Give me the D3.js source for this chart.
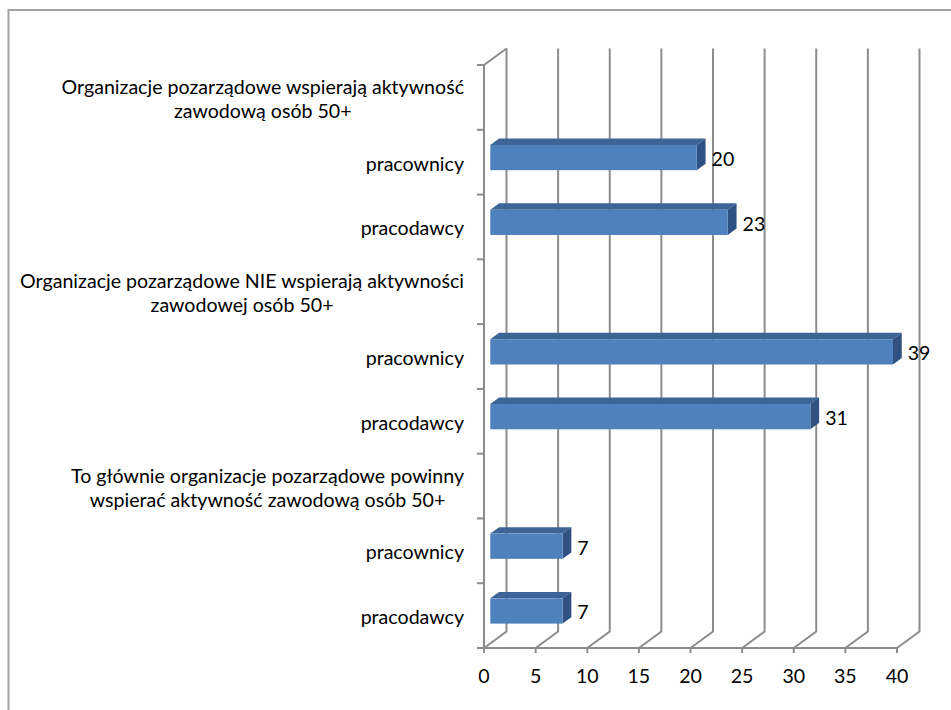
<!DOCTYPE html>
<html>
<head>
<meta charset="utf-8">
<script src="https://cdn.jsdelivr.net/npm/d3@7"></script>
<style>
  html, body { margin: 0; padding: 0; background: #fff; }
  svg { display: block; }
  text { font-family: Lato, "Open Sans", sans-serif; fill: #000; }
</style>
</head>
<body>
<svg id="chart" width="951" height="710"></svg>
<script>
// Categories from top to bottom; group headers carry no value
const categories = [
  "Organizacje pozarządowe wspierają aktywność\nzawodową osób 50+",
  "pracownicy",
  "pracodawcy",
  "Organizacje pozarządowe NIE wspierają aktywności\nzawodowej osób 50+",
  "pracownicy",
  "pracodawcy",
  "To głównie organizacje pozarządowe powinny\nwspierać aktywność zawodową osób 50+",
  "pracownicy",
  "pracodawcy"
];
const values = [null, 20, 23, null, 39, 31, null, 7, 7];
const xTicks = [0, 5, 10, 15, 20, 25, 30, 35, 40];

const svg = d3.select("#chart");
const fontSize = 19.6;

// Plot geometry: front plane and the depth vector to the back wall
const plotLeft = 484, plotRight = 897, plotTop = 65, plotBottom = 648;
const depth = { dx: 22.5, dy: -16.5 };
const barFront = 0.28, barBack = 0.67;   // bar position inside the depth
const barHeightFrac = 0.39;

const x = d3.scaleLinear().domain([0, 40]).range([plotLeft, plotRight]);
const y = d3.scaleBand().domain(d3.range(categories.length)).range([plotTop, plotBottom]).padding(0);

// Outer chart border
svg.append("rect")
  .attr("x", 8.5).attr("y", 10).attr("width", 960).attr("height", 720)
  .attr("fill", "none").attr("stroke", "#a3a3a3").attr("stroke-width", 2);

const grid = svg.append("g").attr("stroke", "#8c8c8c").attr("stroke-width", 2).attr("fill", "none");

// Back-wall vertical gridlines with floor diagonals
xTicks.forEach(t => {
  const fx = x(t);
  grid.append("path")
    .attr("d", `M${fx},${plotBottom} L${fx + depth.dx},${plotBottom + depth.dy} L${fx + depth.dx},${plotTop + depth.dy}`);
});

// Front value axis with tick marks
grid.append("line").attr("x1", plotLeft).attr("x2", plotRight).attr("y1", plotBottom).attr("y2", plotBottom);
xTicks.forEach(t => {
  grid.append("line").attr("x1", x(t)).attr("x2", x(t)).attr("y1", plotBottom).attr("y2", plotBottom + 5);
});

// Category axis: front vertical line, top diagonal, boundary ticks
grid.append("path").attr("d", `M${plotLeft + depth.dx},${plotTop + depth.dy} L${plotLeft},${plotTop} L${plotLeft},${plotBottom + 4}`);
d3.range(categories.length + 1).forEach(i => {
  const ty = plotTop + i * y.bandwidth();
  grid.append("line").attr("x1", plotLeft - 7).attr("x2", plotLeft).attr("y1", ty).attr("y2", ty);
});

// Value tick labels
svg.append("g").selectAll("text").data(xTicks).join("text")
  .attr("x", d => x(d)).attr("y", plotBottom + 35)
  .attr("text-anchor", "middle").attr("font-size", fontSize)
  .text(d => d);

// Category labels: multi-line blocks are right-aligned, lines centred within
const labels = svg.append("g");
categories.forEach((c, i) => {
  const lines = c.split("\n");
  const cy = y(i) + y.bandwidth() / 2 + 1;
  const g = labels.append("g");
  const lh = 24;
  const ts = lines.map((ln, k) => g.append("text")
    .attr("font-size", fontSize)
    .attr("dominant-baseline", "central")
    .attr("y", cy + (k - (lines.length - 1) / 2) * lh)
    .text(ln));
  const w = d3.max(ts, t => t.node().getComputedTextLength());
  const rx = 464;
  ts.forEach(t => t.attr("x", rx - w / 2).attr("text-anchor", "middle"));
});

// 3D bars
const bars = svg.append("g");
const colFront = "#4f81bd", colTop = "#3c6496", colSide = "#2f5283";
values.forEach((v, i) => {
  if (v == null) return;
  const h = y.bandwidth() * barHeightFrac;
  const cy = y(i) + y.bandwidth() / 2;
  const ox = depth.dx * barFront, oy = depth.dy * barFront;
  const bx = depth.dx * barBack, by = depth.dy * barBack;
  const x0 = x(0) + ox, x1 = x(v) + ox;
  const y0 = cy - h / 2 + oy, y1 = cy + h / 2 + oy;
  const ddx = bx - ox, ddy = by - oy;
  // top face
  bars.append("path").attr("fill", colTop)
    .attr("d", `M${x0},${y0} L${x0 + ddx},${y0 + ddy} L${x1 + ddx},${y0 + ddy} L${x1},${y0} Z`);
  // right face
  bars.append("path").attr("fill", colSide)
    .attr("d", `M${x1},${y0} L${x1 + ddx},${y0 + ddy} L${x1 + ddx},${y1 + ddy} L${x1},${y1} Z`);
  // front face
  bars.append("rect").attr("fill", colFront)
    .attr("x", x0).attr("y", y0).attr("width", x1 - x0).attr("height", y1 - y0);
  // value label
  bars.append("text")
    .attr("x", x1 + ddx + 6).attr("y", (y0 + y1) / 2 + 1)
    .attr("dominant-baseline", "central").attr("font-size", fontSize)
    .text(v);
});
</script>
</body>
</html>
